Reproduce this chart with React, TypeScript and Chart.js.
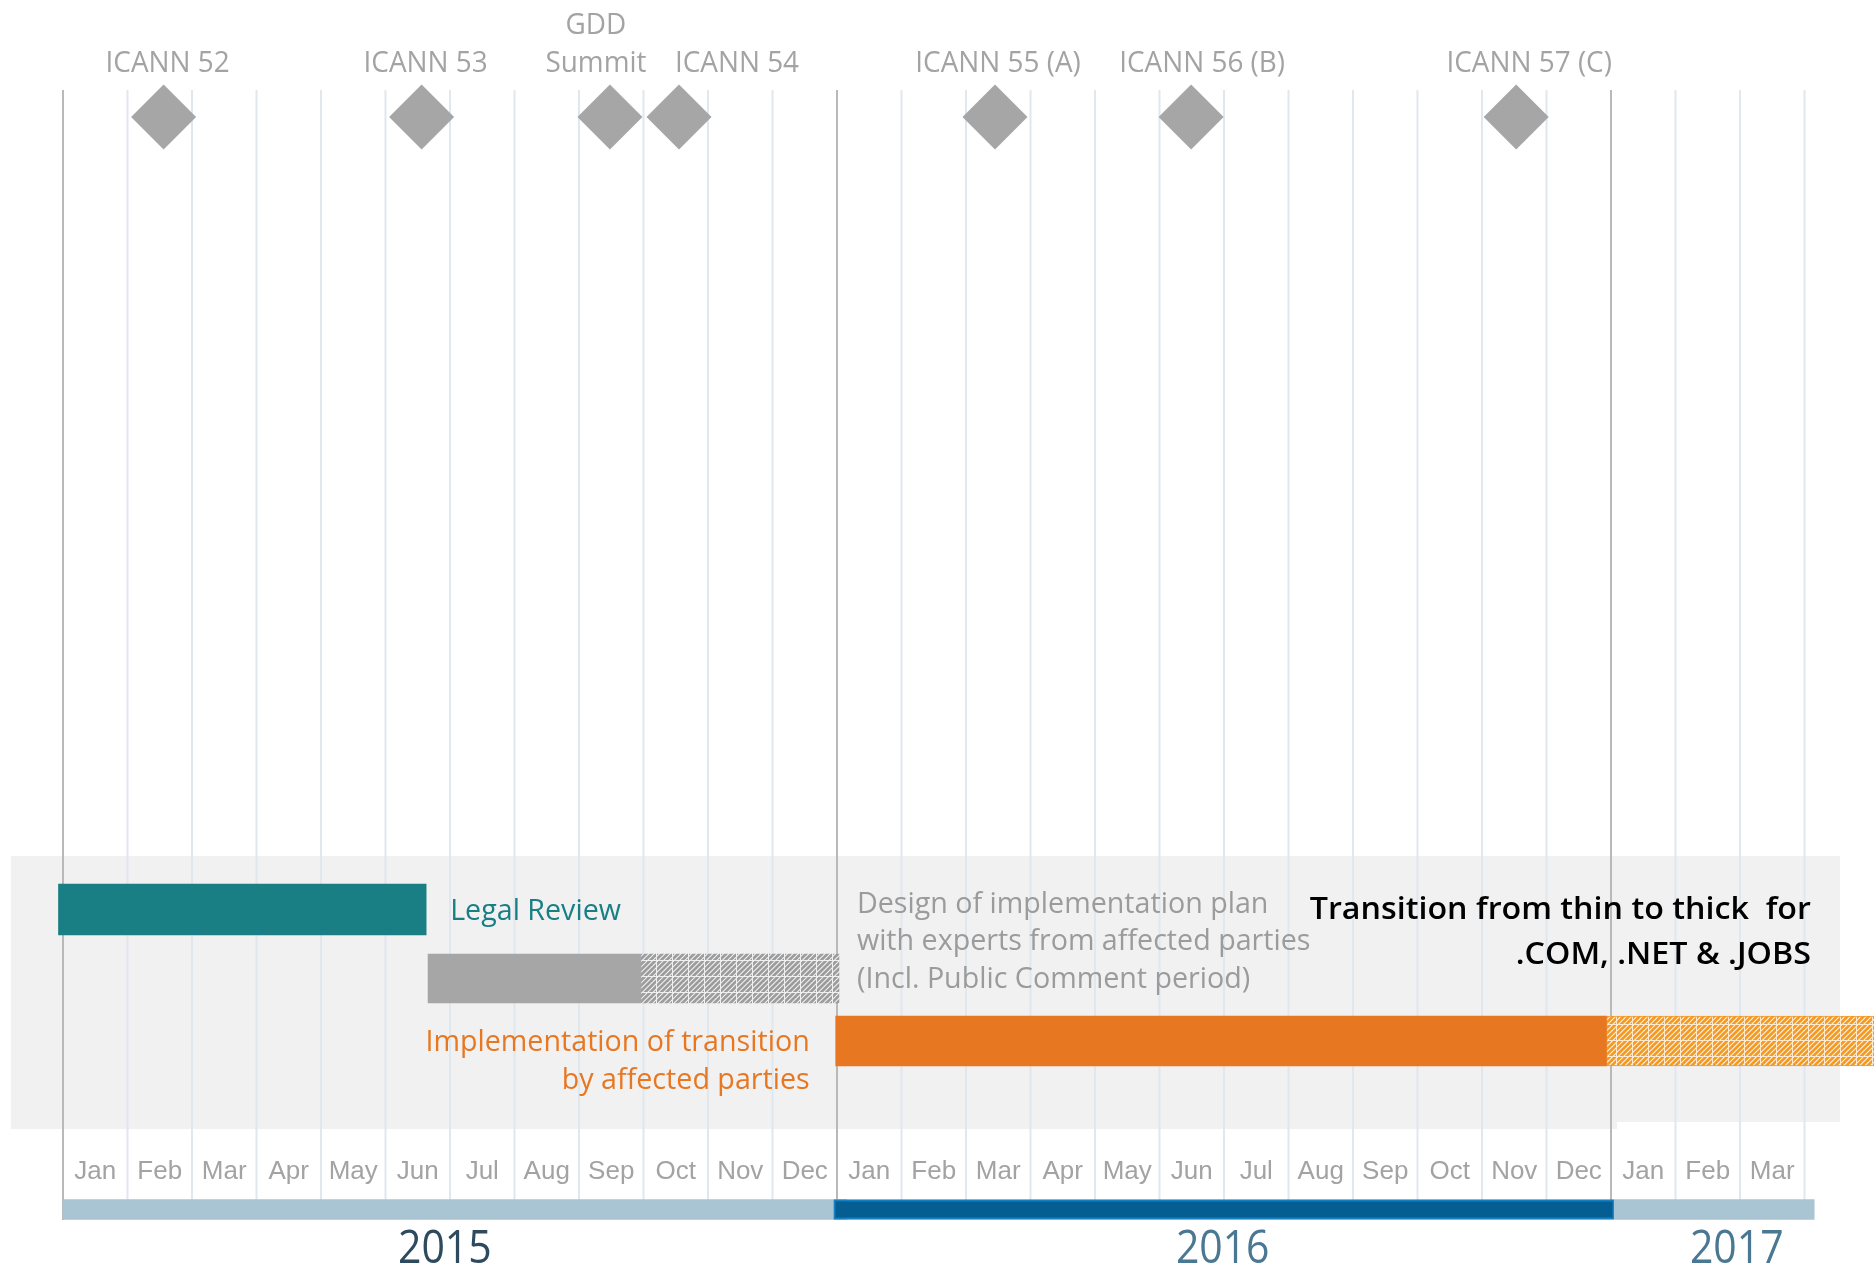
import React, { useEffect, useRef } from 'react';
import { Chart, registerables } from 'chart.js';

Chart.register(...registerables);

const W = 1874;
const H = 1267;

// ---------------- data ----------------
const MONTH_TICK_LABELS = [
  'Jan', 'Feb', 'Mar', 'Apr', 'May', 'Jun', 'Jul', 'Aug', 'Sep', 'Oct', 'Nov', 'Dec',
  'Jan', 'Feb', 'Mar', 'Apr', 'May', 'Jun', 'Jul', 'Aug', 'Sep', 'Oct', 'Nov', 'Dec',
  'Jan', 'Feb', 'Mar',
];
const YEAR_LABELS = ['2015', '2016', '2017'];
const YEAR_STARTS = [0, 11.95, 24.05];
const YEAR_ENDS = [12.15, 24.05, 27.15];
const YEAR_BOUNDARIES = [0, 12, 24];

const MILESTONE_NAMES = [
  'ICANN 52', 'ICANN 53', 'GDD\nSummit', 'ICANN 54', 'ICANN 55 (A)', 'ICANN 56 (B)', 'ICANN 57 (C)',
];
// months after 1 Jan 2015
const MILESTONE_MONTHS = [1.56, 5.56, 8.48, 9.55, 14.45, 17.49, 22.53];

const TASK_NAMES = [
  'Legal Review',
  'Design of implementation plan\nwith experts from affected parties\n(Incl. Public Comment period)',
  'Implementation of transition\nby affected parties',
];
const TASK_STARTS = [-0.07, 5.66, 11.98];
const TASK_ENDS = [5.63, 8.96, 23.93];
const TASK_EXT_ENDS: (number | null)[] = [null, 12.03, 28.6];

const TITLE_LINES = ['Transition from thin to thick  for', '.COM, .NET & .JOBS'];

// ---------------- styles / layout ----------------
const TASK_COLORS = ['#1a7f84', '#a6a6a6', '#e87722'];
const TASK_TEXT_COLORS = ['#1a7f84', '#9b9b9b', '#e87722'];
const YEAR_BAR_COLORS = ['#a9c4d2', '#045e91', '#a9c4d2'];
const YEAR_BAR_BORDERS = ['rgba(0,0,0,0)', '#1380c4', 'rgba(0,0,0,0)'];
const YEAR_TEXT_COLORS = ['#2d4a5e', '#4a7893', '#4a7893'];

const LAYOUT = {
  originPx: 63,
  monthPx: 64.5,
  gridTop: 90,
  gridBottom: 1200,
  milestoneY: 117,
  milestoneRadius: 32.5,
  milestoneBaseline: 71.5,
  milestoneLabelDx: [4, 4, -14, 58, 3, 11, 13],
  lineH: 38,
  taskY: [909.5, 978.5, 1041],
  taskThickness: [51, 49, 50],
  yearBarY: 1209.5,
  yearBarThickness: 20,
  yearLabelAt: [5.92, 17.98, 25.95],
  yearBaseline: 1263,
  monthBaseline: 1179,
  bandTop: 856,
  bandBottomL: 1129,
  bandBottomR: 1122,
  bandLeft: 11,
  bandSplit: 1617,
  bandRight: 1840,
};

const SANS = '"Open Sans", "Noto Sans", sans-serif';
const SX_LABEL = 0.93;
const SX_TEXT = 0.955;

function drawText(
  ctx: CanvasRenderingContext2D,
  text: string,
  x: number,
  y: number,
  font: string,
  color: string,
  align: CanvasTextAlign,
  sx: number,
) {
  ctx.save();
  ctx.font = font;
  ctx.fillStyle = color;
  ctx.textAlign = align;
  ctx.textBaseline = 'alphabetic';
  ctx.translate(x, y);
  ctx.scale(sx, 1);
  ctx.fillText(text, 0, 0);
  ctx.restore();
}

function makeHatch(bg: string, stripe: string, seam: string) {
  const c = document.createElement('canvas');
  c.width = 16;
  c.height = 16;
  const g = c.getContext('2d')!;
  g.fillStyle = bg;
  g.fillRect(0, 0, 16, 16);
  g.strokeStyle = stripe;
  g.lineWidth = 2.7;
  for (let k = -4; k <= 4; k++) {
    const o = (k * 16) / 3;
    g.beginPath();
    g.moveTo(o - 4, 20);
    g.lineTo(o + 20, -4);
    g.stroke();
  }
  g.fillStyle = seam;
  g.fillRect(0, 0, 16, 1);
  g.fillRect(0, 0, 1, 16);
  return g.createPattern(c, 'repeat')!;
}

const annotPlugin = {
  id: 'annot',
  beforeDraw(chart: any) {
    const ctx = chart.ctx as CanvasRenderingContext2D;
    ctx.save();
    ctx.fillStyle = '#ffffff';
    ctx.fillRect(0, 0, W, H);
    ctx.fillStyle = '#f1f1f1';
    ctx.fillRect(LAYOUT.bandLeft, LAYOUT.bandTop, LAYOUT.bandSplit - LAYOUT.bandLeft, LAYOUT.bandBottomL - LAYOUT.bandTop);
    ctx.fillRect(LAYOUT.bandSplit, LAYOUT.bandTop, LAYOUT.bandRight - LAYOUT.bandSplit, LAYOUT.bandBottomR - LAYOUT.bandTop);
    ctx.restore();
  },
  beforeDatasetsDraw(chart: any) {
    const ctx = chart.ctx as CanvasRenderingContext2D;
    const xs = chart.scales.x;
    ctx.save();
    ctx.lineWidth = 2;
    for (let m = 0; m <= MONTH_TICK_LABELS.length; m++) {
      if (YEAR_BOUNDARIES.includes(m)) continue;
      const x = xs.getPixelForValue(m);
      ctx.strokeStyle = '#dfe8ef';
      ctx.beginPath();
      ctx.moveTo(x, LAYOUT.gridTop);
      ctx.lineTo(x, LAYOUT.gridBottom);
      ctx.stroke();
    }
    YEAR_BOUNDARIES.forEach((m, i) => {
      const x = xs.getPixelForValue(m);
      ctx.strokeStyle = '#b9b9b9';
      ctx.beginPath();
      ctx.moveTo(x, LAYOUT.gridTop);
      ctx.lineTo(x, i === 0 ? LAYOUT.gridBottom + 20 : LAYOUT.gridBottom);
      ctx.stroke();
    });
    ctx.restore();
  },
  afterDatasetsDraw(chart: any) {
    const ctx = chart.ctx as CanvasRenderingContext2D;
    const xs = chart.scales.x;
    const font30 = `30px ${SANS}`;

    // milestone labels
    MILESTONE_NAMES.forEach((name, i) => {
      const x = xs.getPixelForValue(MILESTONE_MONTHS[i]) + LAYOUT.milestoneLabelDx[i];
      const lines = name.split('\n');
      lines.forEach((ln, j) => {
        const y = LAYOUT.milestoneBaseline - (lines.length - 1 - j) * LAYOUT.lineH;
        drawText(ctx, ln, x, y, font30, '#a3a3a3', 'center', SX_LABEL);
      });
    });

    // task labels
    const legalEnd = xs.getPixelForValue(TASK_ENDS[0]);
    drawText(ctx, TASK_NAMES[0], legalEnd + 24, LAYOUT.taskY[0] + 10.5, font30, TASK_TEXT_COLORS[0], 'left', SX_TEXT);

    const designEnd = xs.getPixelForValue(TASK_EXT_ENDS[1] as number);
    TASK_NAMES[1].split('\n').forEach((ln, j) => {
      drawText(ctx, ln, designEnd + 18, 912.5 + j * 37.5, font30, TASK_TEXT_COLORS[1], 'left', SX_TEXT);
    });

    const implStart = xs.getPixelForValue(TASK_STARTS[2]);
    TASK_NAMES[2].split('\n').forEach((ln, j) => {
      drawText(ctx, ln, implStart - 26, LAYOUT.taskY[2] + 10 + j * 37.5, font30, TASK_TEXT_COLORS[2], 'right', SX_TEXT);
    });

    // title
    const titleRight = xs.getPixelForValue(27.1);
    TITLE_LINES.forEach((ln, j) => {
      drawText(ctx, ln, titleRight, 919 + j * 44.5, `600 31px ${SANS}`, '#000000', 'right', 1.04);
    });

    // month tick labels
    MONTH_TICK_LABELS.forEach((lab, m) => {
      const x = xs.getPixelForValue(m + 0.5);
      drawText(ctx, lab, x, LAYOUT.monthBaseline, '26px "Liberation Sans", Arial, sans-serif', '#a3a3a3', 'center', 1);
    });

    // year labels
    YEAR_LABELS.forEach((lab, i) => {
      const x = xs.getPixelForValue(LAYOUT.yearLabelAt[i]);
      drawText(ctx, lab, x, LAYOUT.yearBaseline, `45px ${SANS}`, YEAR_TEXT_COLORS[i], 'center', 0.91);
    });
  },
};

export default function App() {
  const ref = useRef<HTMLCanvasElement | null>(null);

  useEffect(() => {
    const canvas = ref.current;
    if (!canvas) return;

    const grayHatch = makeHatch('#f3f3f3', '#9c9c9c', '#f0f0f0');
    const orangeHatch = makeHatch('#fff4e6', '#f39a25', '#fde9cf');
    const hatches = [null, grayHatch, orangeHatch];

    const datasets: any[] = [];
    datasets.push({
      type: 'scatter',
      label: 'Milestones',
      data: MILESTONE_MONTHS.map((m) => ({ x: m, y: LAYOUT.milestoneY })),
      pointStyle: 'rectRot',
      pointRadius: LAYOUT.milestoneRadius,
      pointHoverRadius: LAYOUT.milestoneRadius,
      backgroundColor: '#a6a6a6',
      borderWidth: 0,
      order: 0,
    });
    TASK_NAMES.forEach((name, i) => {
      datasets.push({
        type: 'bar',
        label: name,
        indexAxis: 'y',
        grouped: false,
        data: [{ x: [TASK_STARTS[i], TASK_ENDS[i]], y: LAYOUT.taskY[i] }],
        backgroundColor: TASK_COLORS[i],
        barThickness: LAYOUT.taskThickness[i],
        borderWidth: 0,
        borderSkipped: false,
        order: 2,
      });
      const ext = TASK_EXT_ENDS[i];
      if (ext !== null) {
        datasets.push({
          type: 'bar',
          label: name + ' (continued)',
          indexAxis: 'y',
          grouped: false,
          data: [{ x: [TASK_ENDS[i], ext], y: LAYOUT.taskY[i] }],
          backgroundColor: hatches[i],
          borderColor: i === 2 ? '#f29a2e' : 'rgba(0,0,0,0)',
          borderWidth: i === 2 ? 1 : 0,
          barThickness: LAYOUT.taskThickness[i],
          borderSkipped: false,
          order: 2,
        });
      }
    });
    datasets.push({
      type: 'bar',
      label: 'Years',
      indexAxis: 'y',
      grouped: false,
      data: YEAR_LABELS.map((_, i) => ({ x: [YEAR_STARTS[i], YEAR_ENDS[i]], y: LAYOUT.yearBarY })),
      backgroundColor: YEAR_BAR_COLORS,
      borderColor: YEAR_BAR_BORDERS,
      borderWidth: [0, 2, 0],
      borderSkipped: false,
      barThickness: LAYOUT.yearBarThickness,
      order: 3,
    });

    const chart = new Chart(canvas, {
      type: 'bar',
      data: { datasets },
      options: {
        animation: false,
        responsive: false,
        maintainAspectRatio: false,
        indexAxis: 'y',
        layout: { padding: 0, autoPadding: false },
        events: [],
        plugins: {
          legend: { display: false },
          tooltip: { enabled: false },
        },
        scales: {
          x: {
            type: 'linear',
            display: false,
            stacked: false,
            offset: false,
            grid: { offset: false },
            min: -LAYOUT.originPx / LAYOUT.monthPx,
            max: (W - LAYOUT.originPx) / LAYOUT.monthPx,
          },
          y: {
            type: 'linear',
            display: false,
            reverse: true,
            offset: false,
            grid: { offset: false },
            min: 0,
            max: H,
          },
        },
      } as any,
      plugins: [annotPlugin],
    });

    return () => chart.destroy();
  }, []);

  return (
    <div style={{ position: 'absolute', left: 0, top: 0, width: W, height: H }}>
      <canvas ref={ref} width={W} height={H} style={{ display: 'block', width: W, height: H }} />
    </div>
  );
}
